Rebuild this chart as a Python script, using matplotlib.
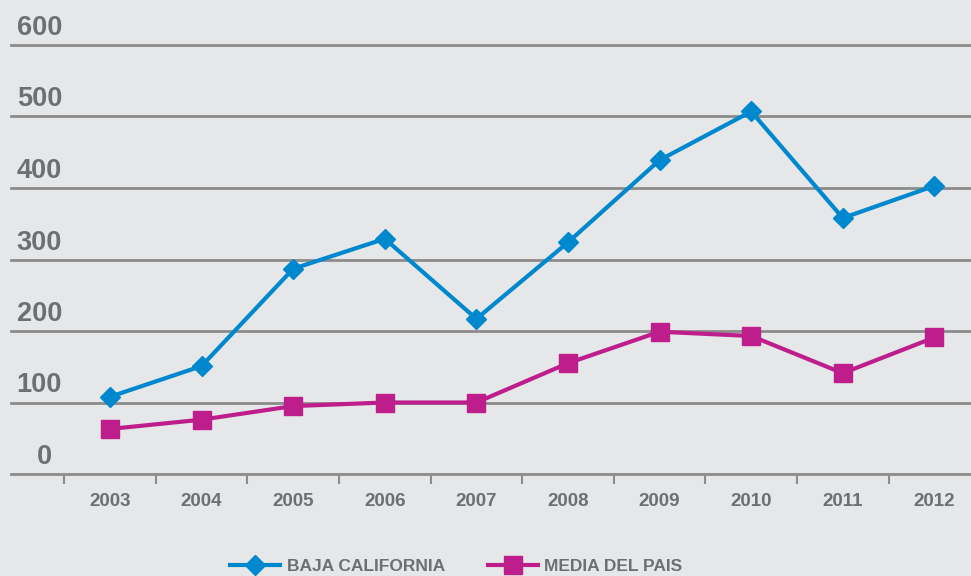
import matplotlib
matplotlib.use("Agg")
import matplotlib.pyplot as plt
from matplotlib.lines import Line2D

years = ["2003", "2004", "2005", "2006", "2007", "2008", "2009", "2010", "2011", "2012"]
baja = [108, 151, 287, 329, 217, 324, 439, 507, 358, 403]
media = [63, 76, 95, 100, 100, 155, 199, 193, 141, 191]
yticks = [0, 100, 200, 300, 400, 500, 600]
series_names = ["BAJA CALIFORNIA", "MEDIA DEL PAIS"]

BG = "#E6E7E9"
BLUE = "#0088CE"
MAG = "#BE1E8C"
GRID = "#8C8C8C"
TXT = "#6E6F71"
FONT = ["Liberation Sans", "DejaVu Sans"]
plt.rcParams["font.family"] = FONT
plt.rcParams["font.weight"] = "bold"

W, H = 971, 576
fig = plt.figure(figsize=(W / 100, H / 100), dpi=100, facecolor=BG)
# axes: left at px 11, right at 971; y=0 at px 474, y=600 at px 45
ax = fig.add_axes([11 / W, (H - 474) / H, 1 - 11 / W, (474 - 45) / H], facecolor=BG)

x = list(range(len(years)))
ax.set_xlim((11 - 110) / 91.6, (971 - 110) / 91.6)
ax.set_ylim(0, 600)

for v in yticks:
    ax.axhline(v, color=GRID, lw=2.0, zorder=1, clip_on=False)

ax.plot(x, baja, color=BLUE, lw=3.0, marker="D", ms=10.5, zorder=3, clip_on=False)
ax.plot(x, media, color=MAG, lw=3.0, marker="s", ms=12.5, zorder=3, clip_on=False)

for s in ax.spines.values():
    s.set_visible(False)
ax.set_yticks([])
ax.set_xticks(x)
ax.set_xticklabels(years, fontsize=13.5, color=TXT, fontweight="bold")
ax.tick_params(axis="x", length=0, pad=14)
ax.set_xticks([i - 0.5 for i in x], minor=True)
ax.tick_params(axis="x", which="minor", length=7, width=1.5, color=GRID)

# y labels sit above gridlines
for v in yticks:
    off = 41 if v == 0 else 51
    ax.annotate(str(v), xy=(0, v), xycoords=("axes fraction", "data"),
                xytext=(off, 4), textcoords="offset pixels",
                ha="right", va="bottom", fontsize=19.5, color=TXT,
                fontweight="bold")

handles = [
    Line2D([], [], color=BLUE, lw=3.0, marker="D", ms=10.5),
    Line2D([], [], color=MAG, lw=3.0, marker="s", ms=12.5),
]
fig.legend(handles, series_names, loc="center", bbox_to_anchor=(0.47, 0.016),
           ncol=2, frameon=False, prop={"size": 12.5, "weight": "bold"},
           labelcolor=TXT, handlelength=2.9, handletextpad=0.35,
           columnspacing=2.5)

fig.savefig("out.png", dpi=100, facecolor=BG)
